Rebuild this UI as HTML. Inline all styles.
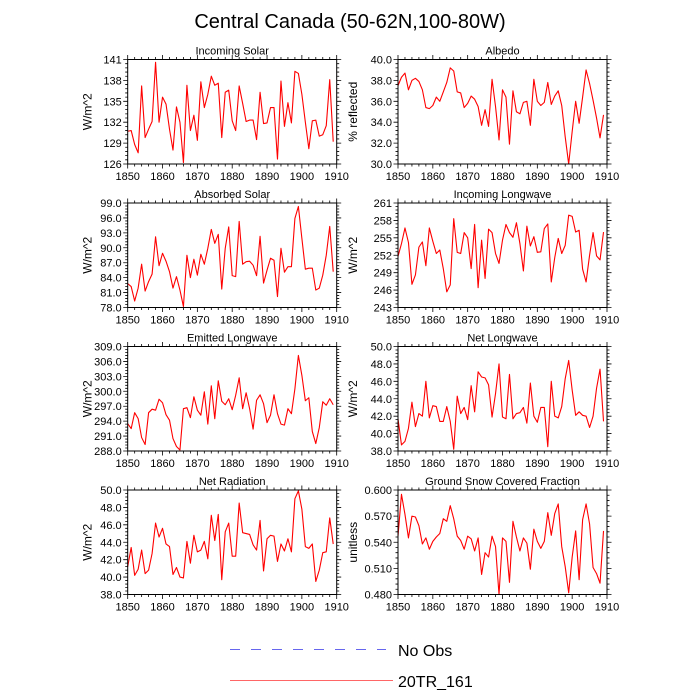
<!DOCTYPE html>
<html><head><meta charset="utf-8"><style>
html,body{margin:0;padding:0;background:#fff;}
svg{display:block;font-family:"Liberation Sans",sans-serif;}
</style></head><body>
<svg id="chart" width="700" height="700" viewBox="0 0 700 700" xmlns="http://www.w3.org/2000/svg">
<text x="350" y="28" text-anchor="middle" font-size="20" fill="#000">Central Canada (50-62N,100-80W)</text>
<g>
<line x1="230" y1="649.5" x2="386" y2="649.5" stroke="#6666ee" stroke-width="1" stroke-dasharray="10,11"/>
<text x="398" y="656" font-size="16" fill="#000">No Obs</text>
<line x1="230" y1="680.5" x2="393" y2="680.5" stroke="#ff6666" stroke-width="1"/>
<text x="398" y="687" font-size="16" fill="#000">20TR_161</text>
</g>
<g id="panels"></g>
</svg>
<script>
const years = [];
for (let y = 1850; y <= 1909; y++) years.push(y);
const xTicks = [1850,1860,1870,1880,1890,1900,1910];

const incomingSolar = [130.7,130.8,128.8,127.6,137.2,129.8,131,132.1,140.6,132,135.6,134.6,131,128,134.2,132,126.2,137.3,130.8,133,129.4,137.8,134.1,136,138.6,137.3,137.6,129.8,136.3,136.6,132.2,130.8,137.2,134.7,132.1,132.3,132.3,129.5,136.3,131.8,131.9,134.1,134.1,126.7,137.9,131.4,134.8,131.9,139.3,139,136,132,128.2,132.2,132.3,130,130.2,131.5,138.1,129.2];
const albedo = [37.5,38.3,38.7,37.1,38,38.2,37.9,37.1,35.4,35.3,35.6,36.4,36,36.9,37.8,39.2,38.9,36.9,36.8,35.4,35.8,36.5,36.2,35.5,33.7,35.2,33.6,38.1,35.5,32.3,37.1,36.4,31.9,37,35,34.8,35.9,36,33.7,38.1,36,35.6,35.9,37.8,35.7,36.5,37,35.6,32.6,30,33.1,36,33.9,36.4,39,37.7,36.1,34.4,32.5,34.7];
const absorbedSolar = [82.8,82.2,79.3,81.9,86.7,81.3,83.2,84.7,92.2,86.4,88.9,87.3,85.2,81.9,84.2,81.5,78.2,88.5,84,87.7,84.5,88.7,86.7,89.9,93.7,90.9,92.7,81.7,89.9,94.2,84.4,84.2,95.3,86.7,87.2,87.3,86.5,84.4,92.3,82.9,85.5,87.9,87.5,80.2,89.9,85.1,86.2,86.2,95.9,98.3,91.9,85.7,85.9,85.9,81.5,81.9,84.5,88.5,94.3,85.2];
const incomingLongwave = [251.8,254,256.7,254.2,247,248.6,253.4,254.3,250.2,256.7,254.4,252.3,252.9,249.7,245.7,246.9,258.3,252.5,252.3,255.9,255,249.7,257.3,246.4,254.6,248,256.5,255.9,252.3,250.6,254.6,257.3,255.9,255.1,257.6,254,249.3,257,253.6,255.2,252.5,252.6,256.6,257.4,247.4,251.6,254.9,252.3,253.7,258.9,258.7,256,256.3,249.6,247.4,252,255.9,251.9,251.2,256];
const emittedLongwave = [293.5,292.5,295.7,294.5,290.7,289.3,295.7,296.4,296.2,298.4,297.7,295.3,294.2,290.5,288.9,288.2,296.5,296.7,294.7,298.9,296.2,295.2,299.9,293.4,301.1,294.5,302.1,298,297.3,298.5,296.3,299.2,302.7,296.5,299.7,296.5,292.4,298.2,299.3,297.5,293.7,295.2,299.3,295.5,293.4,293.2,296.5,295.5,300.5,307.2,303.2,298.1,298.7,291.9,289.5,292.7,297.9,297.2,298.5,297.3];
const netLongwave = [41.7,38.7,39.1,40.6,43.6,40.8,42.3,42,46,41.8,43.2,43.1,41.4,41.4,43.1,41.4,38.2,44.3,42.3,43,41.6,45.5,42.5,47.1,46.5,46.4,45.6,41.9,44.6,48,41.9,41.7,46.8,41.7,42.3,42.4,43,41.2,45.8,42,41.3,43,43,38.5,46,42,41.8,43.1,46.3,48.4,45,42.1,42.5,42.1,42,40.7,42,45.2,47.4,41.4];
const netRadiation = [41.2,43.4,40.2,40.9,43.1,40.4,40.8,42.7,46.2,44.6,45.6,43.8,43.5,40.3,41.1,40,39.9,44.1,41.6,44.8,42.9,43.1,44.1,42.1,47.1,44.2,47.2,39.7,45.2,46.2,42.4,42.4,48.5,45.1,45,44.9,43.7,43.1,46.5,40.7,44.4,44.8,44.7,41.8,43.8,43,44.4,42.9,49,49.9,47.8,43.5,43.3,43.8,39.5,40.8,42.8,42.9,46.8,43.8];
const snowFraction = [0.547,0.595,0.572,0.545,0.570,0.569,0.559,0.538,0.545,0.532,0.541,0.546,0.550,0.567,0.564,0.582,0.567,0.547,0.542,0.532,0.547,0.544,0.530,0.545,0.503,0.528,0.523,0.547,0.535,0.480,0.545,0.541,0.494,0.564,0.546,0.530,0.545,0.539,0.509,0.555,0.541,0.533,0.541,0.574,0.548,0.573,0.584,0.535,0.512,0.482,0.523,0.553,0.497,0.566,0.584,0.561,0.511,0.504,0.493,0.553];

const yTicks1 = [126,129,132,135,138,141];
const yTicks2 = [30,32,34,36,38,40];
const yTicks3 = [78,81,84,87,90,93,96,99];
const yTicks4 = [243,246,249,252,255,258,261];
const yTicks5 = [288,291,294,297,300,303,306,309];
const yTicks6 = [38,40,42,44,46,48,50];
const yTicks7 = [38,40,42,44,46,48,50];
const yTicks8 = [0.48,0.51,0.54,0.57,0.60];

const panels = [
 {id:'incoming-solar', title:'Incoming Solar', ylab:'W/m^2', data:incomingSolar, ticks:yTicks1, dec:0, col:0, row:0},
 {id:'albedo', title:'Albedo', ylab:'% reflected', data:albedo, ticks:yTicks2, dec:1, col:1, row:0},
 {id:'absorbed-solar', title:'Absorbed Solar', ylab:'W/m^2', data:absorbedSolar, ticks:yTicks3, dec:1, col:0, row:1},
 {id:'incoming-longwave', title:'Incoming Longwave', ylab:'W/m^2', data:incomingLongwave, ticks:yTicks4, dec:0, col:1, row:1},
 {id:'emitted-longwave', title:'Emitted Longwave', ylab:'W/m^2', data:emittedLongwave, ticks:yTicks5, dec:1, col:0, row:2},
 {id:'net-longwave', title:'Net Longwave', ylab:'W/m^2', data:netLongwave, ticks:yTicks6, dec:1, col:1, row:2},
 {id:'net-radiation', title:'Net Radiation', ylab:'W/m^2', data:netRadiation, ticks:yTicks7, dec:1, col:0, row:3},
 {id:'snow-fraction', title:'Ground Snow Covered Fraction', ylab:'unitless', data:snowFraction, ticks:yTicks8, dec:3, col:1, row:3}
];

const NS = 'http://www.w3.org/2000/svg';
const root = document.getElementById('panels');
const colX = [127.7, 398], rowY = [59.5, 203, 346.5, 490], W = 209, H = 104.5;
function mk(tag, attrs, parent){const e=document.createElementNS(NS,tag);for(const k in attrs)e.setAttribute(k,attrs[k]);parent.appendChild(e);return e;}

panels.forEach(p=>{
  const x0=colX[p.col], y0=rowY[p.row];
  const ymin=p.ticks[0], ymax=p.ticks[p.ticks.length-1];
  const xs=v=>x0+(v-1850)/60*W;
  const ys=v=>y0+H-(v-ymin)/(ymax-ymin)*H;
  const g=mk('g',{},root);
  
  
  const t=mk('text',{x:x0+W/2,y:y0-5,'text-anchor':'middle','font-size':11},g);
  t.textContent=p.title;
  
  
  const yl=mk('text',{x:0,y:0,'text-anchor':'middle','font-size':12,transform:`translate(${p.col===0?x0-36:x0-41},${y0+H/2}) rotate(-90)`},g);
  yl.textContent=p.ylab;
  
  
  // ticks
  let d='';
  for(let yr=1850;yr<=1910;yr+=2){const X=xs(yr),L=(yr%10===0)?4.5:2.5;d+=`M${X},${y0+H}v${L}M${X},${y0}v${-L}`;}
  const step=(p.ticks[1]-p.ticks[0])/5;
  for(let i=0;i<=(p.ticks.length-1)*5;i++){const v=ymin+i*step,Y=ys(v),L=(i%5===0)?4.5:2.5;d+=`M${x0},${Y}h${-L}M${x0+W},${Y}h${L}`;}
  const tk=mk('path',{d:d,stroke:'#000','stroke-width':0.8,fill:'none'},g);
  
  
  xTicks.forEach(v=>{const e=mk('text',{x:xs(v),y:y0+H+16,'text-anchor':'middle','font-size':11},g);e.textContent=v;
    
    });
  p.ticks.forEach(v=>{const e=mk('text',{x:x0-6,y:ys(v)+4,'text-anchor':'end','font-size':11},g);e.textContent=v.toFixed(p.dec);
    
    });
  const pts=p.data.map((v,i)=>xs(years[i]).toFixed(2)+','+ys(v).toFixed(2)).join(' ');
  const ln=mk('polyline',{points:pts,fill:'none',stroke:'#ff0000','stroke-width':1.1,'stroke-linejoin':'round'},g);
  
  
  const fr=mk('rect',{x:x0,y:y0,width:W,height:H,fill:'none',stroke:'#000','stroke-width':1},g);
  
  
});
</script>
</body></html>
